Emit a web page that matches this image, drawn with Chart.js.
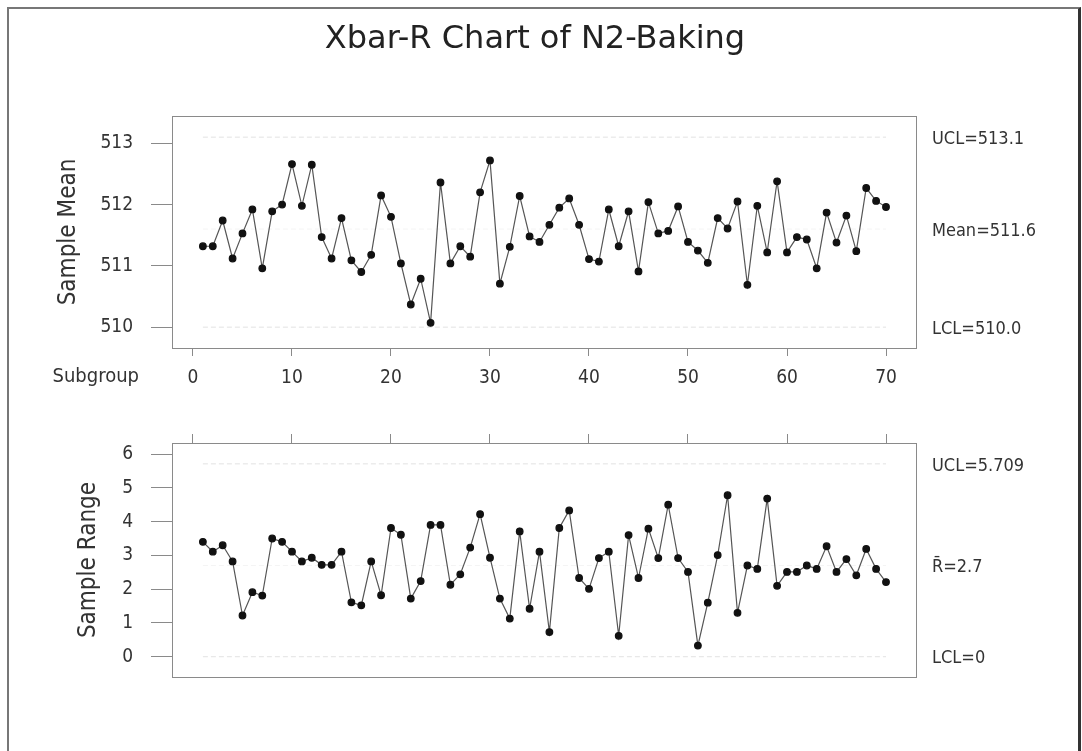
<!DOCTYPE html>
<html>
<head>
<meta charset="utf-8">
<title>Xbar-R Chart of N2-Baking</title>
<script src="https://cdn.jsdelivr.net/npm/chart.js@4.4.1/dist/chart.umd.min.js"></script>
<style>
  html, body { margin: 0; padding: 0; background: #fff; }
  #page { position: relative; width: 1082px; height: 751px; overflow: hidden; background: #fff; }
  #frame { position: absolute; left: 7px; top: 7px; width: 1069px; height: 780px;
           border-left: 2px solid #777; border-top: 2px solid #777; border-right: 3px solid #333; }
  canvas { position: absolute; left: 0; top: 0; }
</style>
</head>
<body>
<div id="page">
  <div id="frame"></div>
  <canvas id="xbarChart" width="1082" height="751"></canvas>
  <canvas id="rangeChart" width="1082" height="751"></canvas>
</div>
<script>
// ===== DATA =====
const subgroups = [
  1, 2, 3, 4, 5, 6, 7, 8, 9, 10, 11, 12, 13, 14, 15, 16, 17, 18, 19, 20,
  21, 22, 23, 24, 25, 26, 27, 28, 29, 30, 31, 32, 33, 34, 35, 36, 37, 38, 39, 40,
  41, 42, 43, 44, 45, 46, 47, 48, 49, 50, 51, 52, 53, 54, 55, 56, 57, 58, 59, 60,
  61, 62, 63, 64, 65, 66, 67, 68, 69, 70
];
const sampleMeans = [
  511.32, 511.32, 511.74, 511.12, 511.53, 511.92, 510.96, 511.89, 512.00, 512.66,
  511.98, 512.65, 511.47, 511.12, 511.78, 511.09, 510.90, 511.18, 512.15, 511.80,
  511.04, 510.37, 510.79, 510.07, 512.36, 511.04, 511.32, 511.15, 512.20, 512.72,
  510.71, 511.31, 512.14, 511.48, 511.39, 511.67, 511.95, 512.10, 511.67, 511.11,
  511.07, 511.92, 511.32, 511.89, 510.91, 512.04, 511.53, 511.57, 511.97, 511.39,
  511.25, 511.05, 511.78, 511.61, 512.05, 510.69, 511.98, 511.22, 512.38, 511.22,
  511.47, 511.43, 510.96, 511.87, 511.38, 511.82, 511.24, 512.27, 512.06, 511.96
];
const sampleRanges = [
  3.40, 3.11, 3.30, 2.82, 1.22, 1.91, 1.81, 3.50, 3.40, 3.11,
  2.82, 2.93, 2.72, 2.72, 3.11, 1.61, 1.52, 2.82, 1.82, 3.81,
  3.61, 1.72, 2.24, 3.90, 3.90, 2.13, 2.44, 3.23, 4.22, 2.93,
  1.72, 1.13, 3.71, 1.42, 3.11, 0.73, 3.81, 4.33, 2.33, 2.01,
  2.92, 3.11, 0.62, 3.60, 2.33, 3.79, 2.92, 4.50, 2.92, 2.51,
  0.33, 1.60, 3.01, 4.78, 1.30, 2.70, 2.60, 4.68, 2.10, 2.51,
  2.51, 2.70, 2.60, 3.27, 2.51, 2.89, 2.41, 3.19, 2.60, 2.21
];
const xTicks = [0, 10, 20, 30, 40, 50, 60, 70];
const meanTicks = [510, 511, 512, 513];
const rangeTicks = [0, 1, 2, 3, 4, 5, 6];
const meanLimits = [513.1, 511.6, 510.0];
const meanLimitLabels = ['UCL=513.1', 'Mean=511.6', 'LCL=510.0'];
const rangeLimits = [5.709, 2.7, 0];
const rangeLimitLabels = ['UCL=5.709', 'R\u0304=2.7', 'LCL=0'];

// ===== LOOK =====
const FONT = "'DejaVu Sans Condensed', 'DejaVu Sans', sans-serif";
const TEXT = '#333';
const AXIS = '#8a8a8a';
Chart.defaults.font.family = FONT;
Chart.defaults.color = TEXT;

// plot frame + limit labels on the right
const framePlugin = {
  id: 'frameLabels',
  afterDraw(chart, args, opts) {
    const { ctx, chartArea: a } = chart;
    const y = chart.scales.y;
    ctx.save();
    ctx.strokeStyle = AXIS;
    ctx.lineWidth = 1;
    ctx.strokeRect(a.left + 0.5, a.top + 0.5, a.right - a.left, a.bottom - a.top);

    ctx.fillStyle = TEXT;
    ctx.font = '18px ' + FONT;
    ctx.textAlign = 'left';
    ctx.textBaseline = 'middle';
    opts.limits.forEach((v, i) => {
      ctx.fillText(opts.labels[i], 932, y.getPixelForValue(v) + 2);
    });

    if (opts.title) {
      ctx.fillStyle = '#222';
      ctx.font = "32px 'DejaVu Sans', sans-serif";
      ctx.textAlign = 'center';
      ctx.textBaseline = 'alphabetic';
      ctx.fillText(opts.title, 535, 48);
    }
    if (opts.subgroup) {
      ctx.fillStyle = TEXT;
      ctx.font = '20px ' + FONT;
      ctx.textAlign = 'right';
      ctx.textBaseline = 'middle';
      ctx.fillText(opts.subgroup, 139, 377);
    }
    ctx.restore();
  }
};

// UCL / LCL faint dashed, centre line almost invisible
function limitSets(limits) {
  return limits.map((v, i) => ({
    data: [{ x: subgroups[0], y: v }, { x: subgroups[subgroups.length - 1], y: v }],
    borderColor: i === 1 ? '#f4f4f4' : '#e2e2e2',
    borderWidth: 1,
    borderDash: [5, 3],
    pointRadius: 0
  }));
}

function makeChart(id, values, yTicks, yMin, yMax, yTitle, limits, labels, xOpts, padding, yWidth, extra) {
  const points = subgroups.map((s, i) => ({ x: s, y: values[i] }));
  return new Chart(document.getElementById(id), {
    type: 'line',
    data: {
      datasets: [{
        data: points,
        borderColor: '#555',
        borderWidth: 1.2,
        pointRadius: 3.3,
        pointBackgroundColor: '#111',
        pointBorderColor: '#111',
        tension: 0
      }].concat(limitSets(limits))
    },
    options: {
      responsive: false,
      animation: false,
      events: [],
      layout: { padding: padding },
      plugins: {
        legend: { display: false },
        tooltip: { enabled: false },
        frameLabels: Object.assign({ limits: limits, labels: labels }, extra)
      },
      scales: {
        x: Object.assign({
          type: 'linear',
          min: -2.12,
          max: 73.03,
          afterBuildTicks: s => { s.ticks = xTicks.map(v => ({ value: v })); },
          border: { display: false },
          grid: { drawOnChartArea: false, drawTicks: true, color: AXIS }
        }, xOpts),
        y: {
          type: 'linear',
          min: yMin,
          max: yMax,
          afterBuildTicks: s => { s.ticks = yTicks.map(v => ({ value: v })); },
          afterFit: s => { s.width = yWidth; },
          border: { display: false },
          grid: { drawOnChartArea: false, drawTicks: true, tickLength: 21, color: AXIS },
          ticks: { padding: 18, color: TEXT, font: { size: 19 } },
          title: { display: true, text: yTitle, color: TEXT, font: { size: 24 }, padding: { top: 2, bottom: 0 } }
        }
      }
    },
    plugins: [framePlugin]
  });
}

// ===== XBAR CHART =====
makeChart('xbarChart', sampleMeans, meanTicks, 509.66, 513.445, 'Sample Mean',
  meanLimits, meanLimitLabels,
  {
    position: 'bottom',
    afterFit: s => { s.height = 50; },
    grid: { drawOnChartArea: false, drawTicks: true, tickLength: 8, color: AXIS },
    ticks: { padding: 11, color: TEXT, font: { size: 19 }, maxRotation: 0, autoSkip: false }
  },
  { left: 52, right: 166, top: 116, bottom: 751 - 348 - 50 }, 120,
  { title: 'Xbar-R Chart of N2-Baking', subgroup: 'Subgroup' });

// ===== RANGE CHART =====
makeChart('rangeChart', sampleRanges, rangeTicks, -0.60, 6.326, 'Sample Range',
  rangeLimits, rangeLimitLabels,
  {
    position: 'top',
    afterFit: s => { s.height = 10; },
    grid: { drawOnChartArea: false, drawTicks: true, tickLength: 9, color: AXIS },
    ticks: { display: false }
  },
  { left: 72, right: 166, top: 433, bottom: 751 - 677 }, 100,
  {});
</script>
</body>
</html>
